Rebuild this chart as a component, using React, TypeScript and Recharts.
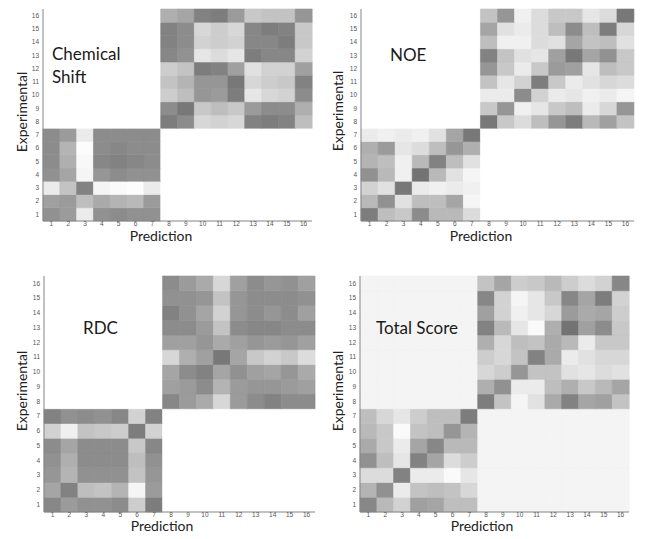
import React from 'react';
import { BarChart, Bar, XAxis, YAxis, Cell } from 'recharts';

// grid labels (residues 1..16)
const COLS = [1, 2, 3, 4, 5, 6, 7, 8, 9, 10, 11, 12, 13, 14, 15, 16];
const ROWS = [1, 2, 3, 4, 5, 6, 7, 8, 9, 10, 11, 12, 13, 14, 15, 16];

// grey levels (0 = black, 255 = white)
// upper blocks: rows 16 -> 8 (top to bottom), cols 8 -> 16
// lower blocks: rows 7 -> 1 (top to bottom), cols 1 -> 7
const csUpper = [
    [175, 165, 130, 125, 155, 200, 195, 195, 150],
    [130, 140, 215, 205, 215, 135, 125, 130, 200],
    [130, 140, 210, 205, 210, 135, 135, 125, 200],
    [135, 145, 230, 220, 230, 125, 135, 135, 210],
    [205, 195, 125, 130, 160, 225, 210, 210, 160],
    [195, 180, 150, 150, 120, 215, 205, 200, 130],
    [205, 190, 150, 155, 125, 230, 215, 210, 140],
    [140, 120, 200, 190, 200, 155, 140, 140, 175],
    [125, 140, 215, 210, 215, 130, 125, 130, 190],
];
const csLower = [
    [140, 155, 235, 140, 140, 140, 140],
    [140, 180, 252, 140, 135, 140, 140],
    [140, 175, 248, 135, 130, 135, 140],
    [145, 165, 245, 150, 140, 145, 145],
    [235, 195, 130, 245, 250, 253, 235],
    [160, 155, 190, 170, 180, 185, 155],
    [145, 155, 235, 145, 140, 145, 145],
];

const noeUpper = [
    [195, 150, 240, 220, 200, 200, 230, 220, 120],
    [165, 225, 235, 220, 190, 140, 190, 125, 215],
    [190, 240, 240, 220, 225, 165, 195, 190, 225],
    [130, 195, 225, 230, 160, 120, 165, 145, 200],
    [150, 200, 235, 200, 155, 160, 230, 190, 200],
    [195, 230, 210, 125, 200, 235, 225, 215, 220],
    [235, 235, 140, 210, 235, 230, 240, 235, 245],
    [200, 150, 240, 230, 200, 190, 235, 215, 150],
    [120, 200, 220, 190, 150, 125, 185, 160, 195],
];
const noeLower = [
    [235, 240, 235, 240, 225, 165, 120],
    [175, 155, 230, 220, 190, 150, 175],
    [180, 190, 240, 185, 130, 190, 225],
    [145, 185, 240, 115, 185, 225, 245],
    [210, 225, 120, 235, 240, 235, 240],
    [185, 145, 225, 190, 190, 165, 245],
    [125, 190, 200, 140, 185, 185, 220],
];

const rdcUpper = [
    [140, 155, 170, 215, 160, 140, 150, 145, 160],
    [145, 145, 150, 195, 150, 140, 140, 140, 145],
    [130, 145, 165, 210, 150, 140, 150, 140, 160],
    [140, 140, 155, 195, 140, 135, 135, 140, 140],
    [160, 160, 150, 170, 160, 150, 155, 150, 160],
    [215, 175, 160, 120, 165, 200, 210, 200, 220],
    [165, 140, 130, 165, 145, 160, 165, 150, 170],
    [160, 155, 140, 180, 155, 150, 150, 155, 160],
    [135, 155, 170, 215, 155, 140, 130, 140, 140],
];
const rdcLower = [
    [130, 145, 140, 145, 135, 210, 130],
    [210, 240, 195, 200, 205, 125, 210],
    [140, 165, 140, 140, 140, 200, 135],
    [145, 175, 140, 140, 140, 190, 145],
    [150, 180, 145, 145, 145, 195, 150],
    [165, 130, 190, 195, 180, 245, 155],
    [135, 155, 145, 145, 140, 205, 125],
];

const totalUpper = [
    [195, 165, 205, 200, 185, 205, 220, 210, 135],
    [135, 210, 245, 230, 200, 135, 165, 125, 210],
    [160, 210, 240, 230, 215, 155, 170, 165, 205],
    [130, 185, 230, 250, 175, 115, 160, 140, 200],
    [175, 215, 190, 195, 170, 185, 235, 200, 200],
    [205, 215, 195, 130, 170, 235, 225, 215, 215],
    [215, 205, 150, 195, 195, 225, 230, 220, 225],
    [175, 145, 235, 235, 190, 175, 200, 185, 165],
    [125, 195, 245, 225, 170, 130, 165, 160, 195],
];
const totalLower = [
    [190, 215, 230, 205, 190, 190, 125],
    [185, 200, 250, 195, 190, 150, 180],
    [170, 200, 235, 165, 135, 185, 185],
    [145, 190, 230, 130, 165, 220, 205],
    [220, 220, 130, 235, 235, 250, 230],
    [180, 145, 235, 195, 190, 195, 215],
    [135, 185, 210, 160, 165, 190, 190],
];

const FONT = "Lato, 'Open Sans', sans-serif";
const TICK_FONT = "'Liberation Sans', Arial, sans-serif";

const grey = (v: number) => `rgb(${v},${v},${v})`;

const data = COLS.map((c) => {
    const o: any = { col: c };
    ROWS.forEach((r) => { o[`r${r}`] = 1; });
    return o;
});

function Panel(props: any) {
    const { upper, lower, empty, left, top, width, height, margin, yWidth, xHeight } = props;

    const cellGrey = (row: number, col: number) => {
        if (row >= 8 && col >= 8) return grey(upper[16 - row][col - 8]);
        if (row <= 7 && col <= 7) return grey(lower[7 - row][col - 1]);
        return empty;
    };

    return (
        <div style={{ position: 'absolute', left, top }}>
            <BarChart width={width} height={height} data={data} margin={margin} barCategoryGap={0} barGap={0}>
                <XAxis
                    dataKey="col"
                    interval={0}
                    height={xHeight}
                    tickSize={0}
                    tickMargin={0}
                    tickLine={false}
                    axisLine={{ stroke: '#858585' }}
                    tick={{ fontSize: 6.5, fill: '#555', fontFamily: TICK_FONT }}
                />
                <XAxis xAxisId="top" orientation="top" dataKey="col" height={0} tick={false} tickLine={false} axisLine={{ stroke: '#999' }} />
                <YAxis
                    type="number"
                    domain={[0, 16]}
                    ticks={ROWS.map((r) => r - 0.5)}
                    tickFormatter={(v: number) => String(v + 0.5)}
                    interval={0}
                    width={yWidth}
                    tickSize={0}
                    tickMargin={4}
                    tickLine={false}
                    axisLine={{ stroke: '#858585' }}
                    tick={{ fontSize: 6.5, fill: '#555', fontFamily: TICK_FONT }}
                />
                <YAxis yAxisId="right" orientation="right" type="number" domain={[0, 16]} width={0} tick={false} tickLine={false} axisLine={{ stroke: '#999' }} />
                {ROWS.map((r) => (
                    <Bar key={r} dataKey={`r${r}`} stackId="s" isAnimationActive={false}>
                        {COLS.map((c) => {
                            const g = cellGrey(r, c);
                            return <Cell key={`c-${r}-${c}`} fill={g} stroke={g} strokeWidth={0.6} />;
                        })}
                    </Bar>
                ))}
            </BarChart>
        </div>
    );
}

// panel title, x = left edge, y = vertical centre
function Title({ x, y, children }: any) {
    return (
        <div style={{
            position: 'absolute', left: x, top: y - 10, height: 20, lineHeight: '20px', whiteSpace: 'nowrap',
            fontSize: 17, fontFamily: FONT, color: '#1a1a1a',
        }}>{children}</div>
    );
}

// rotated y axis title centred on (x, y)
function YTitle({ x, y }: any) {
    return (
        <div style={{
            position: 'absolute', left: x - 50, top: y - 7, width: 100, height: 14, lineHeight: '14px',
            textAlign: 'center', fontSize: 14, fontFamily: FONT, color: '#222', transform: 'rotate(-90deg)',
        }}>Experimental</div>
    );
}

// x axis title centred on x with its baseline at `baseline`
function XTitle({ x, baseline }: any) {
    return (
        <div style={{
            position: 'absolute', left: x - 40, top: baseline - 12.4, width: 80, height: 14, textAlign: 'center',
            fontSize: 14, lineHeight: '14px', fontFamily: FONT, color: '#222',
        }}>Prediction</div>
    );
}

export default function App() {
    return (
        <div style={{ position: 'absolute', left: 0, top: 0, width: 645, height: 539, background: '#fff' }}>
            <Panel upper={csUpper} lower={csLower} empty="#ffffff" left={0} top={0} width={322} height={250}
                margin={{ top: 9, right: 10, left: 0, bottom: 0 }} yWidth={43} xHeight={29} />
            <Panel upper={noeUpper} lower={noeLower} empty="#ffffff" left={322} top={0} width={323} height={250}
                margin={{ top: 9, right: 11, left: 0, bottom: 0 }} yWidth={39} xHeight={29} />
            <Panel upper={rdcUpper} lower={rdcLower} empty="#ffffff" left={0} top={268} width={322} height={270}
                margin={{ top: 8, right: 7, left: 0, bottom: 0 }} yWidth={44} xHeight={26} />
            <Panel upper={totalUpper} lower={totalLower} empty="#f4f4f4" left={322} top={268} width={323} height={270}
                margin={{ top: 8, right: 16, left: 0, bottom: 0 }} yWidth={38} xHeight={26} />

            <Title x={52} y={54}>Chemical</Title>
            <Title x={52} y={77}>Shift</Title>
            <Title x={390} y={55}>NOE</Title>
            <Title x={83} y={328}>RDC</Title>
            <Title x={376} y={328}>Total Score</Title>

            <YTitle x={22} y={112} />
            <YTitle x={338} y={111} />
            <YTitle x={22} y={391} />
            <YTitle x={338} y={391} />

            <XTitle x={161} baseline={241.5} />
            <XTitle x={481} baseline={241.5} />
            <XTitle x={162} baseline={531} />
            <XTitle x={482} baseline={531} />
        </div>
    );
}
